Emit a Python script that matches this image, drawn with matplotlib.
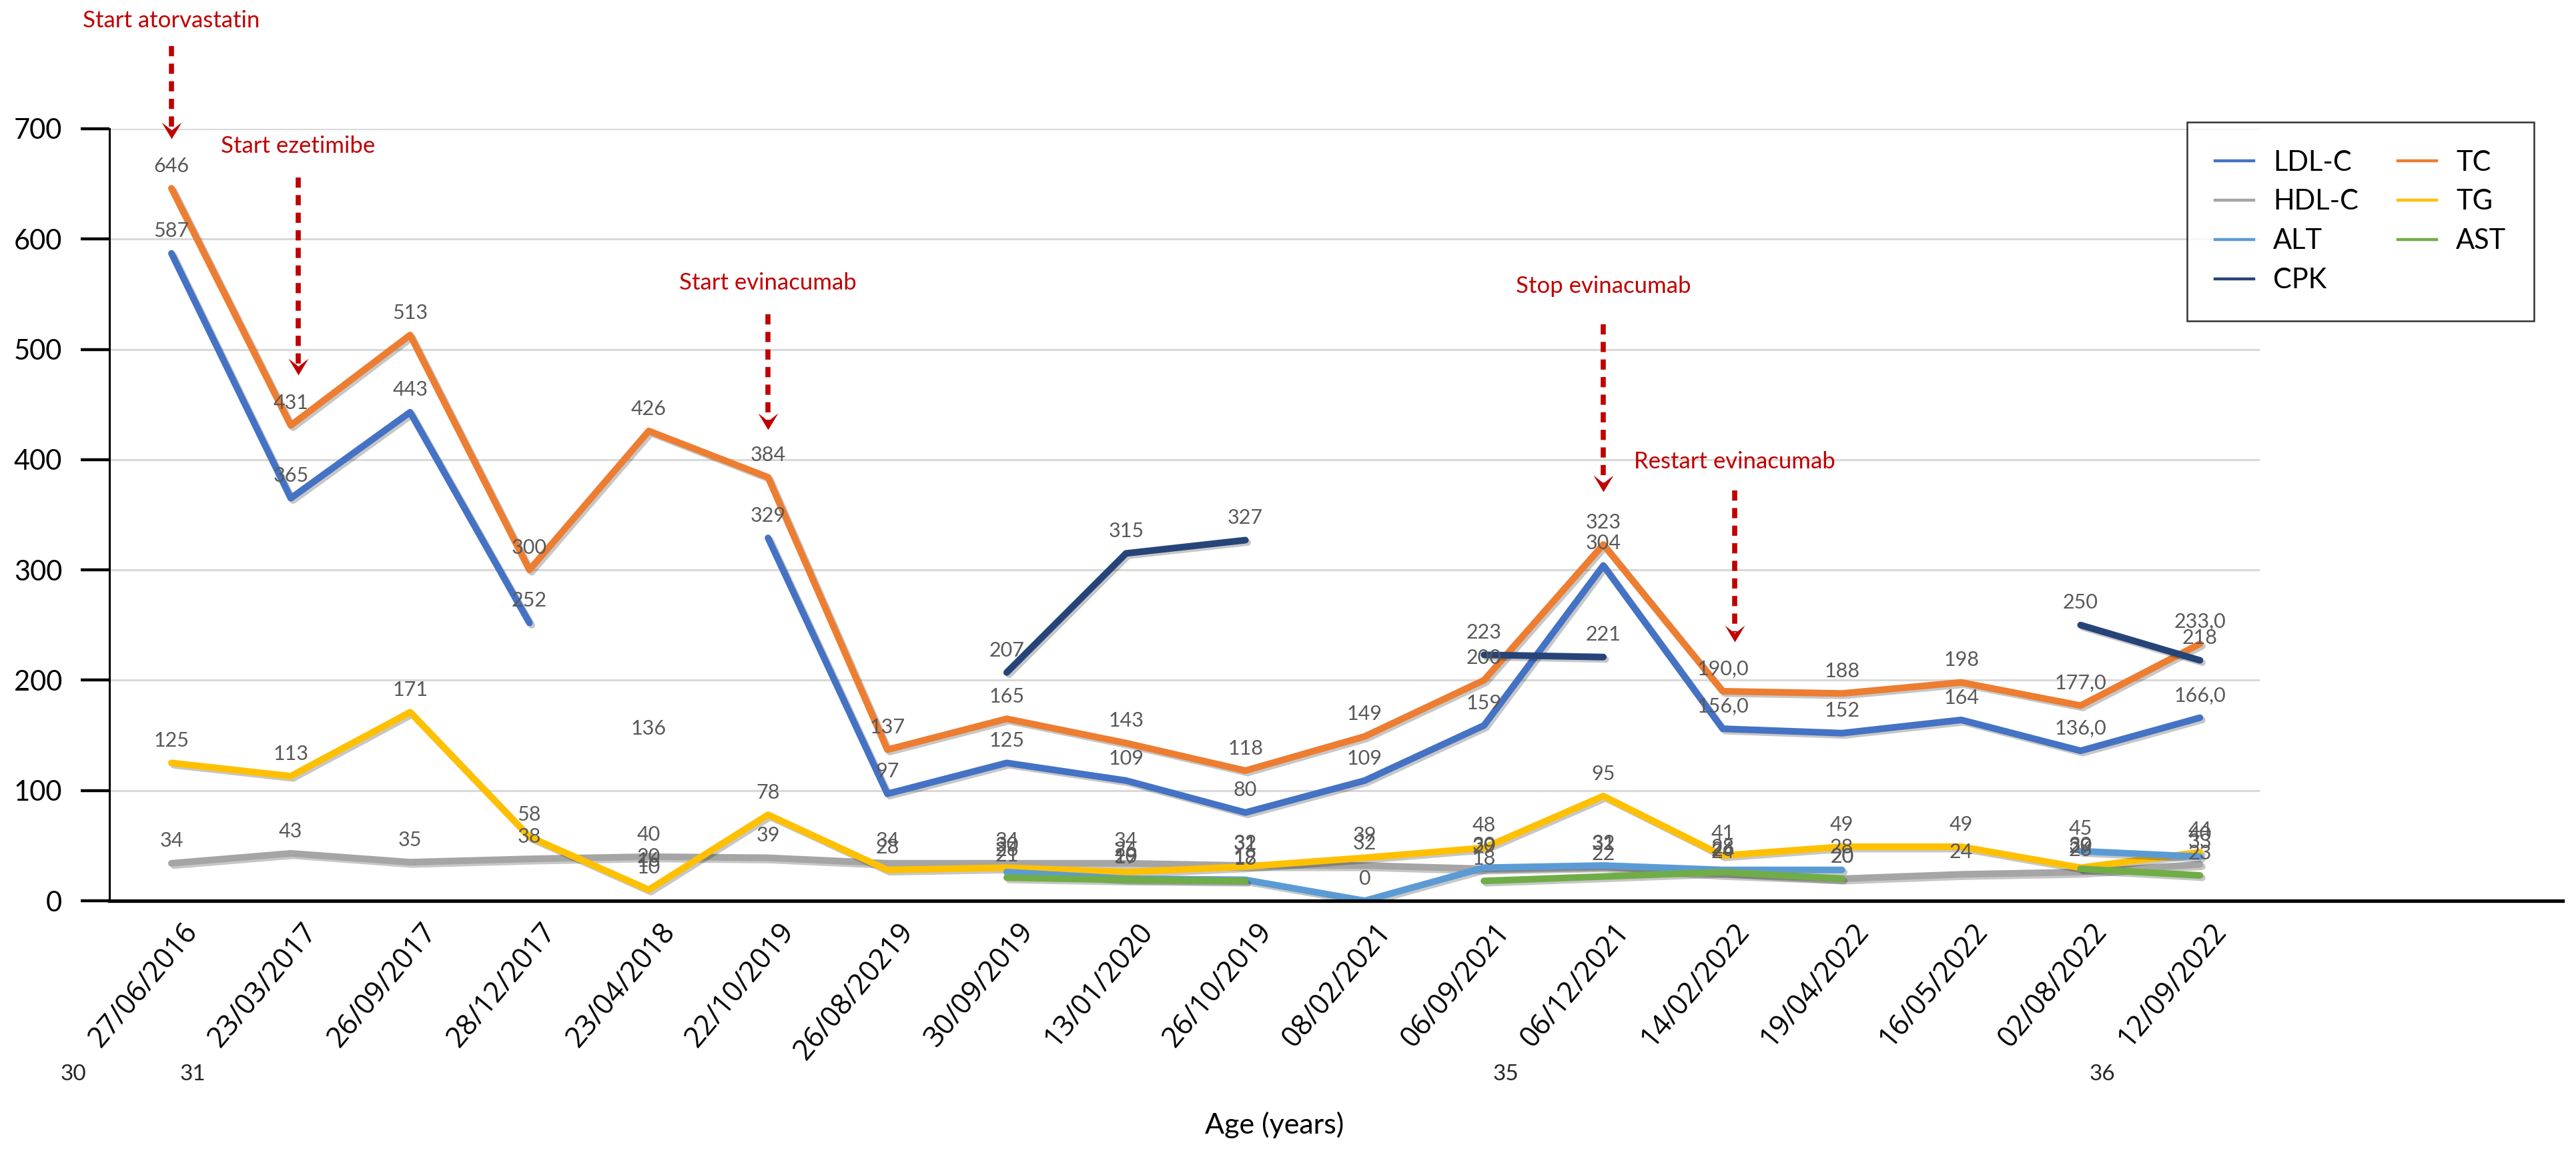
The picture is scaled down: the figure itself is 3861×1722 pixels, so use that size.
import numpy as np
import matplotlib
matplotlib.use("Agg")
import matplotlib.pyplot as plt
import matplotlib.patheffects as pe
from matplotlib.lines import Line2D
from matplotlib.path import Path
from matplotlib.transforms import ScaledTranslation, blended_transform_factory

nan = np.nan

DATES = ["27/06/2016", "23/03/2017", "26/09/2017", "28/12/2017", "23/04/2018",
         "22/10/2019", "26/08/20219", "30/09/2019", "13/01/2020", "26/10/2019",
         "08/02/2021", "06/09/2021", "06/12/2021", "14/02/2022", "19/04/2022",
         "16/05/2022", "02/08/2022", "12/09/2022"]

LDL_C = [587, 365, 443, 252, nan, 329, 97, 125, 109, 80, 109, 159, 304, 156, 152, 164, 136, 166]
TC    = [646, 431, 513, 300, 426, 384, 137, 165, 143, 118, 149, 200, 323, 190, 188, 198, 177, 233]
HDL_C = [34, 43, 35, 38, 40, 39, 34, 34, 34, 32, 32, 29, 31, 24, 20, 24, 26, 33]
TG    = [125, 113, 171, 58, 10, 78, 28, 30, 26, 31, 39, 48, 95, 41, 49, 49, 30, 44]
ALT   = [nan, nan, nan, nan, 16, nan, nan, 26, 20, 19, 0, 30, 32, 28, 28, nan, 45, 40]
AST   = [nan, nan, nan, nan, 20, nan, nan, 21, 19, 18, nan, 18, 22, 26, 20, nan, 29, 23]
CPK   = [nan, nan, nan, nan, 136, nan, nan, 207, 315, 327, nan, 223, 221, nan, nan, nan, 250, 218]

# points whose label was written with a decimal comma ("156,0")
COMMA_IDX = [13, 16, 17]

AGE_IDX = [0, 1, 12, 17]
AGES = ["30", "31", "35", "36"]

EVENTS = ["Start atorvastatin", "Start ezetimibe", "Start evinacumab",
          "Stop evinacumab", "Restart evinacumab"]
EVENT_X = [0.0, 1.06, 5.0, 12.0, 13.1]
EVENT_TEXT_Y = [798, 684, 560, 557, 398]
EVENT_TOP = [775, 656, 532, 523, 372]
EVENT_TIP = [691, 477, 427, 371, 235]

RED = "#C00000"
LABEL_GRAY = "#595959"

plt.rcParams['font.family'] = ['Lato', 'DejaVu Sans']

fig = plt.figure(figsize=(38.61, 17.22), dpi=100)
ax = fig.add_axes([164 / 3861, 1 - 1350 / 1722, (3841 - 164) / 3861, (1350 - 193) / 1722])

x = np.arange(len(DATES))
ax.set_xlim(-0.52, 20.04)
ax.set_ylim(0, 700)

# gridlines stop short of the right end, like the original
ax.hlines(range(100, 701, 100), -0.52, 17.5, color="#D9D9D9", lw=2.2, zorder=1)

series = [
    ("LDL-C", LDL_C, "#4472C4", True),
    ("TC", TC, "#ED7D31", True),
    ("HDL-C", HDL_C, "#A5A5A5", False),
    ("TG", TG, "#FFC000", False),
    ("ALT", ALT, "#5B9BD5", False),
    ("AST", AST, "#70AD47", False),
    ("CPK", CPK, "#264478", False),
]

shadow = [pe.SimpleLineShadow(offset=(2.5, -2.5), shadow_color="k", alpha=0.22), pe.Normal()]
handles = {}
for name, vals, col, comma in series:
    vals = np.array(vals, dtype=float)
    ax.plot(x, vals, color=col, lw=7.2, solid_capstyle="round", solid_joinstyle="round",
            path_effects=shadow, zorder=3)
    handles[name] = Line2D([], [], color=col, lw=3.2)
    for i, v in enumerate(vals):
        if np.isnan(v):
            continue
        txt = f"{int(v)},0" if (comma and i in COMMA_IDX) else f"{int(v)}"
        ax.annotate(txt, (i, v), xytext=(0, 24), textcoords="offset points",
                    ha="center", va="center", fontsize=22, color=LABEL_GRAY, zorder=6,
                    annotation_clip=False)

# axes styling
for s in ["top", "right"]:
    ax.spines[s].set_visible(False)
ax.spines["left"].set_linewidth(2.2)
ax.spines["bottom"].set_linewidth(3.8)
ax.spines["bottom"].set_zorder(5)
ax.set_yticks(range(0, 701, 100))
ax.tick_params(axis="y", direction="out", length=31, width=3.2, pad=20, labelsize=30)
ax.set_xticks(x)
ax.set_xticklabels(DATES, rotation=50, ha="right", va="top", rotation_mode="anchor",
                   fontsize=31, family=["Open Sans", "DejaVu Sans"])
ax.tick_params(axis="x", length=0, pad=18)
for lab in ax.get_xticklabels():
    lab.set_transform(lab.get_transform() + ScaledTranslation(0.15, 0, fig.dpi_scale_trans))

# treatment events: dashed red arrows with chevron heads
chevron = Path([(-1.2, 2.0), (0, 0), (1.2, 2.0), (0, 1.05), (-1.2, 2.0)],
               [Path.MOVETO, Path.LINETO, Path.LINETO, Path.LINETO, Path.CLOSEPOLY])
for name, ex, ty, top, tip in zip(EVENTS, EVENT_X, EVENT_TEXT_Y, EVENT_TOP, EVENT_TIP):
    ax.text(ex, ty, name, color=RED, fontsize=25, ha="center", va="center", zorder=7)
    ax.plot([ex, ex], [top, tip + 8], color=RED, lw=5.5, ls=(0, (2.0, 1.45)),
            dash_capstyle="butt", clip_on=False, zorder=7)
    ax.plot([ex], [tip], marker=chevron, markersize=36, color=RED, mew=0,
            clip_on=False, zorder=8)

# ages under the dates
tr = blended_transform_factory(ax.transData, fig.transFigure)
for i, a in zip(AGE_IDX, AGES):
    ax.text(i - 0.82, 1 - 1610 / 1722, a, transform=tr, ha="center", va="center",
            fontsize=24, color="#262626")

fig.text(1910 / 3861, 1 - 1686 / 1722, "Age (years)", ha="center", va="center", fontsize=31)

order = ["LDL-C", "HDL-C", "ALT", "CPK", "TC", "TG", "AST"]
leg = fig.legend([handles[n] for n in order], order, ncol=2, loc="upper left",
                 bbox_to_anchor=(3278 / 3861, 1 - 183 / 1722), borderaxespad=0,
                 fontsize=30, frameon=True, fancybox=False, handlelength=1.4,
                 handletextpad=0.7, columnspacing=1.4, labelspacing=0.5, borderpad=1.0)
leg.get_frame().set_edgecolor("black")
leg.get_frame().set_linewidth(1.8)

fig.savefig("out.png", dpi=100)
